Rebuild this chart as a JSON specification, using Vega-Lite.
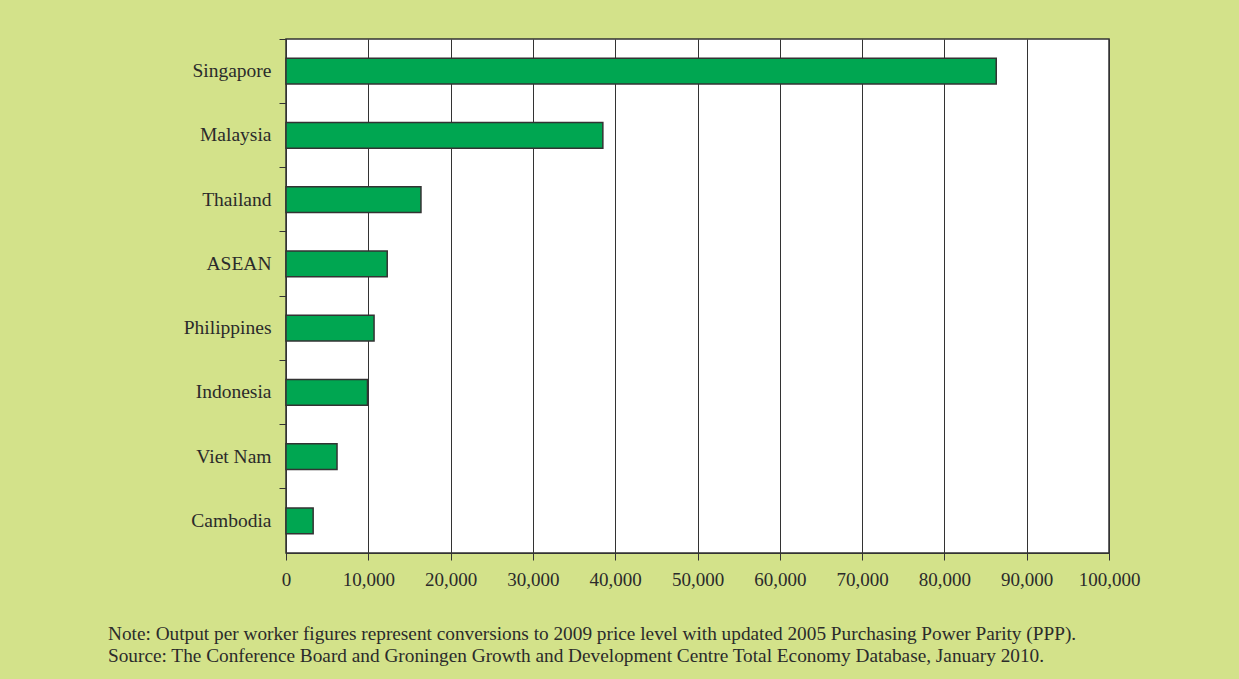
{
  "$schema": "https://vega.github.io/schema/vega-lite/v6.json",
  "width": 823,
  "height": 514,
  "autosize": {"type": "none"},
  "padding": {"left": 286, "top": 39, "right": 130, "bottom": 126},
  "background": "#d3e28a",
  "data": {
    "values": [
      {"country": "Singapore", "output": 86300},
      {"country": "Malaysia", "output": 38500},
      {"country": "Thailand", "output": 16400},
      {"country": "ASEAN", "output": 12300},
      {"country": "Philippines", "output": 10700},
      {"country": "Indonesia", "output": 9900},
      {"country": "Viet Nam", "output": 6200},
      {"country": "Cambodia", "output": 3300}
    ]
  },
  "title": {
    "text": "Note: Output per worker figures represent conversions to 2009 price level with updated 2005 Purchasing Power Parity (PPP).",
    "subtitle": "Source: The Conference Board and Groningen Growth and Development Centre Total Economy Database, January 2010.",
    "orient": "bottom",
    "anchor": "start",
    "frame": "group",
    "dx": -178,
    "offset": 36,
    "font": "Liberation Serif",
    "fontSize": 19.3,
    "fontWeight": "normal",
    "color": "#2b2b2b",
    "subtitleFont": "Liberation Serif",
    "subtitleFontSize": 19.3,
    "subtitleColor": "#2b2b2b",
    "subtitlePadding": 3
  },
  "mark": {"type": "bar", "height": {"band": 0.4}, "fill": "#00a651", "stroke": "#333333", "strokeWidth": 1.5},
  "encoding": {
    "y": {
      "field": "country",
      "type": "nominal",
      "sort": null,
      "scale": {"paddingInner": 0, "paddingOuter": 0},
      "axis": {
        "title": null,
        "bandPosition": 0,
        "tickSize": 7,
        "tickColor": "#333333",
        "domainColor": "#333333",
        "labelPadding": 8,
        "labelFont": "Liberation Serif",
        "labelFontSize": 19.5,
        "labelColor": "#2b2b2b",
        "grid": false
      }
    },
    "x": {
      "field": "output",
      "type": "quantitative",
      "scale": {"domain": [0, 100000], "nice": false},
      "axis": {
        "title": null,
        "values": [0, 10000, 20000, 30000, 40000, 50000, 60000, 70000, 80000, 90000, 100000],
        "format": ",d",
        "labelOverlap": false,
        "labelBound": false,
        "labelFlush": false,
        "tickSize": 7,
        "tickColor": "#333333",
        "domainColor": "#333333",
        "gridColor": "#333333",
        "gridOpacity": 1,
        "labelPadding": 10,
        "labelFont": "Liberation Serif",
        "labelFontSize": 19,
        "labelColor": "#2b2b2b"
      }
    }
  },
  "config": {
    "view": {"fill": "white", "stroke": "#333333", "strokeWidth": 1.5}
  }
}
